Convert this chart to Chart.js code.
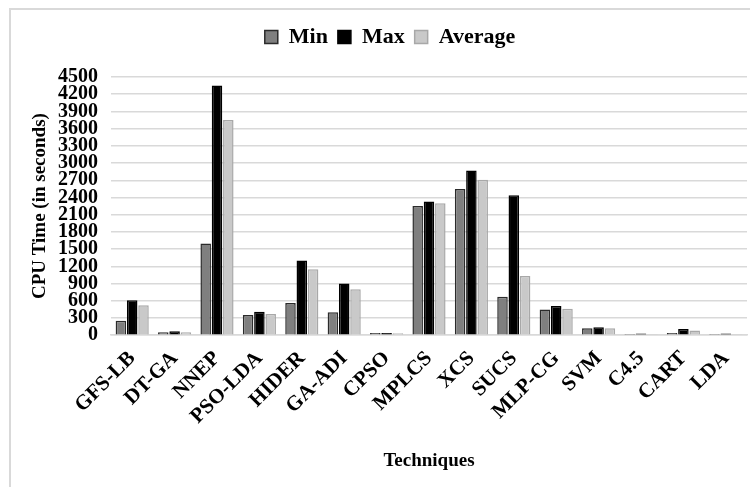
<!DOCTYPE html>
<html>
<head>
<meta charset="utf-8">
<title>CPU Time</title>
<script src="https://cdn.jsdelivr.net/npm/chart.js@4.4.0/dist/chart.umd.min.js"></script>
<style>
  html, body { margin: 0; padding: 0; background: #fff; overflow: hidden; }
  #frame {
    position: absolute; left: 9px; top: 8px; width: 800px; height: 600px;
    border-left: 2px solid #d9d9d9; border-top: 2px solid #d9d9d9;
  }
  #chart { position: absolute; left: 0; top: 0; }
</style>
</head>
<body>
<div id="frame"></div>
<canvas id="chart" width="750" height="487"></canvas>
<script>
var categories = ['GFS-LB', 'DT-GA', 'NNEP', 'PSO-LDA', 'HIDER', 'GA-ADI', 'CPSO', 'MPLCS',
  'XCS', 'SUCS', 'MLP-CG', 'SVM', 'C4.5', 'CART', 'LDA'];
var minTimes = [250, 50, 1600, 350, 560, 400, 40, 2250, 2550, 670, 450, 120, 20, 40, 20];
var maxTimes = [610, 70, 4350, 410, 1300, 900, 40, 2330, 2870, 2440, 510, 140, 30, 110, 30];
var avgTimes = [520, 50, 3750, 370, 1150, 800, 35, 2300, 2710, 1030, 460, 120, 10, 80, 10];
var yTicks = [0, 300, 600, 900, 1200, 1500, 1800, 2100, 2400, 2700, 3000, 3300, 3600, 3900, 4200, 4500];

var serif = '"Liberation Serif", "Times New Roman", serif';

function series(label, values, fill, border) {
  return {
    label: label,
    data: values,
    backgroundColor: fill,
    borderColor: border,
    borderWidth: 1.5,
    barPercentage: 0.93,
    categoryPercentage: 0.8
  };
}

// extra room under the legend, and nudge it a little to the right
var legendGap = {
  id: 'legendGap',
  beforeInit: function (chart) {
    var fit = chart.legend.fit;
    chart.legend.fit = function () {
      fit.call(this);
      this.height += 19;
    };
  },
  afterLayout: function (chart) {
    chart.legend.left += 2;
    chart.legend.right += 2;
  }
};

var ctx = document.getElementById('chart').getContext('2d');
var chart = new Chart(ctx, {
  type: 'bar',
  data: {
    labels: categories,
    datasets: [
      series('Min', minTimes, '#7f7f7f', '#2b2b2b'),
      series('Max', maxTimes, '#000000', '#000000'),
      series('Average', avgTimes, '#c9c9c9', '#a8a8a8')
    ]
  },
  plugins: [legendGap],
  options: {
    responsive: false,
    animation: false,
    devicePixelRatio: 1,
    layout: { padding: { left: 29, right: 3, top: 16, bottom: 11 } },
    plugins: {
      legend: {
        position: 'top',
        labels: {
          color: '#000',
          font: { family: serif, size: 22, weight: 'bold' },
          boxWidth: 13,
          boxHeight: 13,
          padding: 10
        }
      },
      tooltip: { enabled: false }
    },
    scales: {
      x: {
        grid: { display: false },
        border: { color: '#d9d9d9', width: 1.5 },
        ticks: {
          color: '#000',
          font: { family: serif, size: 21, weight: 'bold' },
          minRotation: 45,
          maxRotation: 45,
          autoSkip: false
        },
        title: {
          display: true,
          text: 'Techniques',
          color: '#000',
          font: { family: serif, size: 19, weight: 'bold' },
          padding: { top: 17 }
        }
      },
      y: {
        min: 0,
        max: 4500,
        afterBuildTicks: function (axis) {
          axis.ticks = yTicks.map(function (v) { return { value: v }; });
        },
        afterFit: function (axis) {
          axis.width = 82;
        },
        grid: { color: '#d9d9d9', lineWidth: 1.5, drawTicks: false },
        border: { display: false },
        ticks: {
          color: '#000',
          font: { family: serif, size: 20, weight: 'bold' },
          padding: 13,
          autoSkip: false,
          callback: function (v) { return String(v); }
        },
        title: {
          display: true,
          text: 'CPU Time (in seconds)',
          color: '#000',
          font: { family: serif, size: 19, weight: 'bold' },
          padding: { top: 0, bottom: 0 }
        }
      }
    }
  }
});
</script>
</body>
</html>
